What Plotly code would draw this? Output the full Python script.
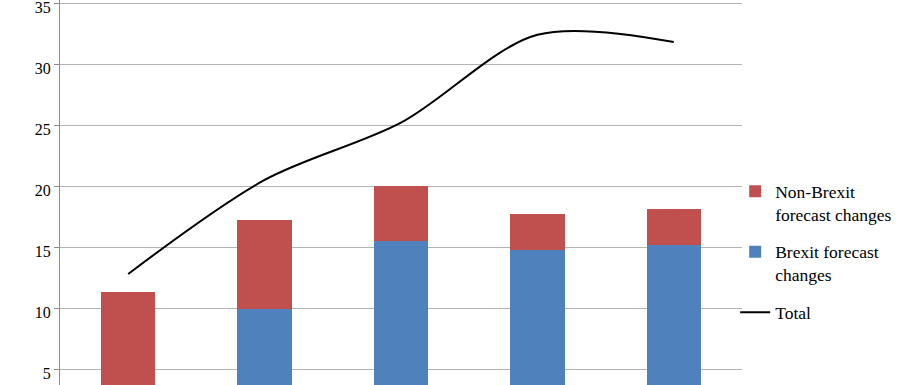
import plotly.graph_objects as go

categories = ["A", "B", "C", "D", "E"]
brexit = [0.0, 9.9, 15.5, 14.75, 15.2]
non_brexit = [11.3, 7.3, 4.5, 2.95, 2.9]
total = [12.8, 20.5, 25.2, 32.4, 31.8]

RED = "#C0504D"
BLUE = "#4F81BD"
FONT = "Liberation Serif"

fig = go.Figure()
fig.add_trace(go.Bar(x=categories, y=brexit, name="Brexit forecast<br>changes",
                     marker=dict(color=BLUE, line=dict(width=0)), width=0.4,
                     legendrank=2, legendgroup="b"))
fig.add_trace(go.Bar(x=categories, y=non_brexit, name="Non-Brexit<br>forecast changes",
                     marker=dict(color=RED, line=dict(width=0)), width=0.4,
                     legendrank=1, legendgroup="a"))
fig.add_trace(go.Scatter(x=categories, y=total, name="Total", mode="lines",
                         legendrank=3, legendgroup="c",
                         line=dict(color="black", width=2, shape="spline", smoothing=0.9)))

fig.update_layout(
    width=917, height=385,
    margin=dict(l=60, r=175, t=0, b=0),
    barmode="stack",
    plot_bgcolor="white", paper_bgcolor="white",
    font=dict(family=FONT, size=16, color="black"),
    showlegend=True,
    legend=dict(x=0.99, y=0.55, xanchor="left", yanchor="top",
                traceorder="grouped", font=dict(family=FONT, size=17.5),
                tracegroupgap=12, itemwidth=30, valign="top",
                bgcolor="rgba(0,0,0,0)"),
)
fig.update_xaxes(range=[-0.5, 4.5], showticklabels=False, showgrid=False,
                 zeroline=False, showline=False, ticks="", automargin=False)
fig.update_yaxes(range=[3.7, 35.25], tickvals=[5, 10, 15, 20, 25, 30, 35],
                 showgrid=True, gridcolor="#B3B3B3", gridwidth=1,
                 showline=True, linecolor="#8C8C8C", linewidth=1,
                 ticks="outside", ticklen=5, tickcolor="#8C8C8C",
                 ticklabeloverflow="allow", automargin=False, ticklabelshift=4,
                 zeroline=False, tickfont=dict(family=FONT, size=16))

fig.write_html("out.html")
